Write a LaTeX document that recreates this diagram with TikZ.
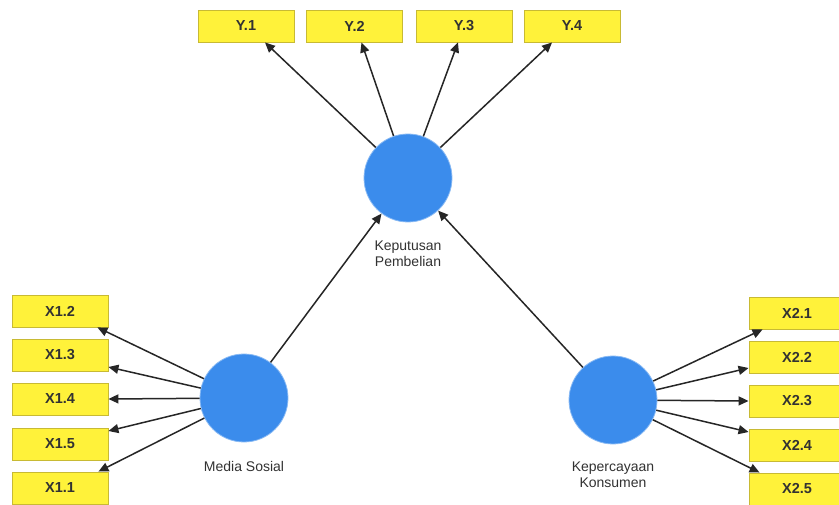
\documentclass[tikz,border=0pt]{standalone}
\usepackage{fontspec}
\setmainfont{Liberation Sans}
\usetikzlibrary{arrows.meta}
\definecolor{indfill}{RGB}{255,242,58}
\definecolor{inddraw}{RGB}{200,186,52}
\definecolor{lvblue}{RGB}{59,140,236}
\definecolor{txt}{RGB}{50,50,50}
\tikzset{
  ind/.style={draw=inddraw, fill=indfill, line width=0.9pt, minimum width=96pt, minimum height=32pt,
    inner sep=0pt, text=txt, font=\fontsize{14.5}{16}\selectfont\bfseries},
  lv/.style={circle, fill=lvblue, draw=lvblue!60!white, line width=0.8pt, minimum size=88pt, inner sep=0pt},
  lvlabel/.style={text=txt, align=center, font=\fontsize{14}{16.5}\selectfont, inner sep=0pt},
  arr/.style={line width=1.5pt, draw=black!85, -{Triangle[length=10pt,width=9pt]}}
}
\begin{document}
\begin{tikzpicture}[x=1pt,y=-1pt]
\clip (0,0) rectangle (839,505);
\fill[white] (0,0) rectangle (839,505);

% latent variables
\node[lv] (kp) at (408,178) {};
\node[lv] (ms) at (244,398) {};
\node[lv] (kk) at (613,400) {};
\node[lvlabel] (kplab) at (408,254) {Keputusan\\Pembelian};
\node[lvlabel] (mslab) at (244,466) {Media Sosial};
\node[lvlabel] (kklab) at (613,475) {Kepercayaan\\Konsumen};

% indicators of Keputusan Pembelian
\node[ind] (y1) at (246,26) {Y.1};
\node[ind] (y2) at (354.5,26) {Y.2};
\node[ind] (y3) at (464,26) {Y.3};
\node[ind] (y4) at (572,26) {Y.4};

% indicators of Media Sosial
\node[ind] (x12) at (60,311) {X1.2};
\node[ind] (x13) at (60,355) {X1.3};
\node[ind] (x14) at (60,399) {X1.4};
\node[ind] (x15) at (60,444) {X1.5};
\node[ind] (x11) at (60,488) {X1.1};

% indicators of Kepercayaan Konsumen
\node[ind] (x21) at (797,313) {X2.1};
\node[ind] (x22) at (797,357) {X2.2};
\node[ind] (x23) at (797,401) {X2.3};
\node[ind] (x24) at (797,445) {X2.4};
\node[ind] (x25) at (797,489) {X2.5};

% structural paths
\draw[arr] (ms) -- (kp);
\draw[arr] (kk) -- (kp);

% outer loadings
\draw[arr] (kp) -- ([xshift=19pt]y1.south);
\draw[arr] (kp) -- ([xshift=7pt]y2.south);
\draw[arr] (kp) -- ([xshift=-6pt]y3.south);
\draw[arr] (kp) -- ([xshift=-20pt]y4.south);

\draw[arr] (ms) -- ([xshift=-11pt]x12.south east);
\draw[arr] (ms) -- ([yshift=-12pt]x13.east);
\draw[arr] (ms) -- (x14.east);
\draw[arr] (ms) -- ([yshift=13pt]x15.east);
\draw[arr] (ms) -- ([xshift=-10pt]x11.north east);

\draw[arr] (kk) -- ([xshift=14pt]x21.south west);
\draw[arr] (kk) -- ([yshift=-11pt]x22.west);
\draw[arr] (kk) -- (x23.west);
\draw[arr] (kk) -- ([yshift=13pt]x24.west);
\draw[arr] (kk) -- ([xshift=11pt]x25.north west);
\end{tikzpicture}
\end{document}
